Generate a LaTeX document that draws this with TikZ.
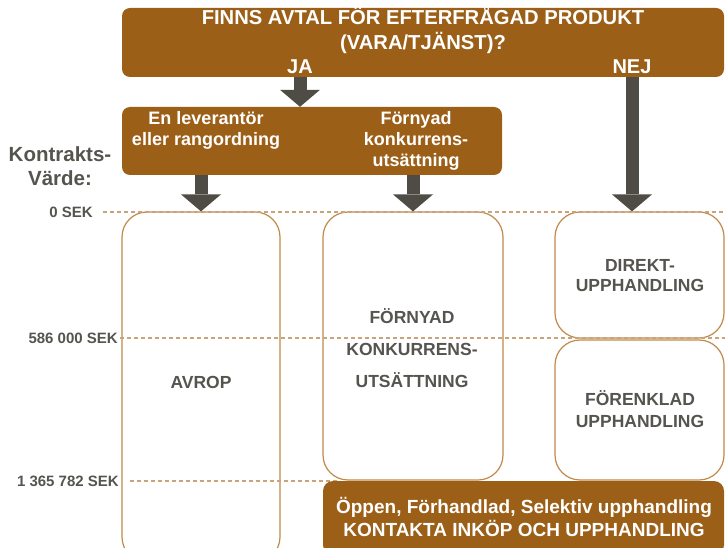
\documentclass[tikz,border=0pt]{standalone}
\usepackage{fontspec}
\setmainfont{Liberation Sans}
\usetikzlibrary{arrows.meta, positioning}
\definecolor{brun}{HTML}{9C5F18}
\definecolor{kant}{HTML}{C08A4A}
\definecolor{streck}{HTML}{C9A47A}
\definecolor{pil}{HTML}{4E4C44}
\definecolor{graa}{HTML}{55544F}
\tikzstyle{brownbox} = [rectangle, rounded corners=8pt, fill=brun, draw=none, inner sep=0pt]
\tikzstyle{colbox}   = [rectangle, rounded corners=25pt, draw=kant, line width=1.2pt, fill=white, inner sep=0pt]
\tikzstyle{wtext}    = [text=white, align=center, inner sep=0pt]
\tikzstyle{gtext}    = [text=graa, align=center, inner sep=0pt]
\tikzstyle{arrow}    = [draw=pil, line width=13pt, -{Triangle[width=40pt, length=17pt, line width=0pt]}]
\tikzstyle{niva}     = [draw=streck, line width=1.2pt, dash pattern=on 4pt off 3pt]
\newcommand{\fs}[2]{\fontsize{#1}{#2}\selectfont\bfseries}

\begin{document}
\begin{tikzpicture}[x=1pt, y=-1pt]
      \useasboundingbox (0,0) rectangle (725,548);
      \clip (0,0) rectangle (725,548);

      % question and choices
      \node (ask)    [brownbox, minimum width=602pt, minimum height=69pt] at (423,42.5) {};
      \node (q)      [wtext, font=\fs{20.2}{25}] at (423,30.5) {FINNS AVTAL FÖR EFTERFRÅGAD PRODUKT\\(VARA/TJÄNST)?};
      \node (ja)     [wtext, font=\fs{20}{25}] at (300,67) {JA};
      \node (nej)    [wtext, font=\fs{20}{25}] at (632,67) {NEJ};

      \node (choice) [brownbox, minimum width=380pt, minimum height=68pt] at (312,141) {};
      \node (lev)    [wtext, font=\fs{18}{21}] at (206,130.5) {En leverantör\\eller rangordning};
      \node (forn)   [wtext, font=\fs{18}{21}] at (416,141) {Förnyad\\konkurrens-\\utsättning};

      \node (kontr)  [gtext, font=\fs{20.5}{24}] at (60,166) {Kontrakts-\\Värde:};

      % value columns
      \node (avrop)  [colbox, minimum width=158pt, minimum height=350pt] at (201,387) {};
      \node (fkon)   [colbox, minimum width=180pt, minimum height=268pt] at (413,346) {};
      \node (direkt) [colbox, minimum width=169pt, minimum height=126pt] at (639.5,275) {};
      \node (forenk) [colbox, minimum width=169pt, minimum height=140pt] at (639.5,410) {};

      \node (t1) [gtext, font=\fs{17.5}{20}] at (201,382) {AVROP};
      \node (t2) [gtext, font=\fs{17.5}{32}] at (412,348) {FÖRNYAD\\KONKURRENS-\\UTSÄTTNING};
      \node (t3) [gtext, font=\fs{17.5}{20}] at (640,276) {DIREKT-\\UPPHANDLING};
      \node (t4) [gtext, font=\fs{17.5}{22}] at (640,409) {FÖRENKLAD\\UPPHANDLING};

      % value levels
      \node (zero) [gtext, font=\fs{15}{18}, anchor=east] at (93,212)  {0 SEK};
      \node (mid)  [gtext, font=\fs{15}{18}, anchor=east] at (118,338) {586 000 SEK};
      \node (high) [gtext, font=\fs{15}{18}, anchor=east] at (119,481) {1 365 782 SEK};
      \coordinate (e0) at (725,212);
      \coordinate (e1) at (725,338);
      \coordinate (e2) at (340,481);
      \draw [niva] ([xshift=10pt]zero.east) -- (e0);
      \draw [niva] ([xshift=2pt]mid.east) -- (e1);
      \draw [niva] ([xshift=11pt]high.east) -- (e2);

      \node (contact) [brownbox, rounded corners=10pt, minimum width=401pt, minimum height=74pt] at (523.5,518) {};
      \node (ct)      [wtext, font=\fs{19}{23}] at (524,516.5) {Öppen, Förhandlad, Selektiv upphandling\\KONTAKTA INKÖP OCH UPPHANDLING};

      \draw [arrow] (ask.south -| ja) -- (choice.north -| ja);
      \draw [arrow] (ask.south -| nej) -- (direkt.north -| nej);
      \draw [arrow] (choice.south -| avrop) -- (avrop.north);
      \draw [arrow] (choice.south -| fkon) -- (fkon.north);
    \end{tikzpicture}
\end{document}
